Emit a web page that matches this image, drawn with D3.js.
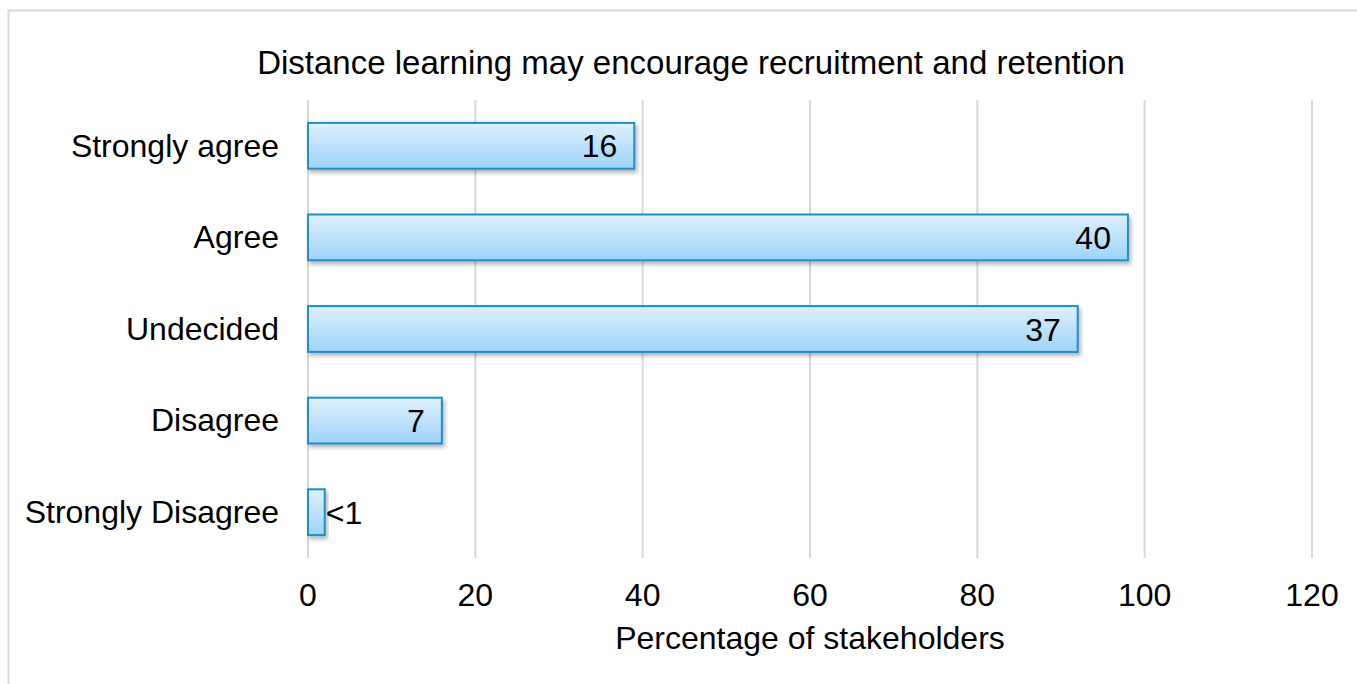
<!DOCTYPE html>
<html>
<head>
<meta charset="utf-8">
<script src="https://cdn.jsdelivr.net/npm/d3@7"></script>
<style>
  body { margin: 0; background: #fff; }
  svg text { font-family: "Liberation Sans", Arial, Helvetica, sans-serif; fill: #000; }
</style>
</head>
<body>
<svg id="chart" width="1357" height="684"></svg>
<script>
// chart data
const categories = ["Strongly agree", "Agree", "Undecided", "Disagree", "Strongly Disagree"];
const barValues = [39, 98, 92, 16, 2];
const barLabels = ["16", "40", "37", "7", "<1"];
const xTicks = [0, 20, 40, 60, 80, 100, 120];
const chartTitle = "Distance learning may encourage recruitment and retention";
const xTitle = "Percentage of stakeholders";

let margin = { top: 100, right: 45, bottom: 126, left: 308 };
let width = 1357, height = 684;

const svg = d3.select("#chart");

// outer chart frame
svg.append("rect")
  .attr("x", 8.5)
  .attr("y", 10.5)
  .attr("width", width + 20)
  .attr("height", height + 20)
  .attr("fill", "none")
  .attr("stroke", "#d9d9d9")
  .attr("stroke-width", 2);

let x = d3.scaleLinear()
  .domain([0, 120])
  .range([margin.left, width - margin.right]);

let y = d3.scaleBand()
  .domain(categories)
  .range([margin.top, height - margin.bottom])
  .paddingInner(0.5)
  .paddingOuter(0.25);

const defs = svg.append("defs");
const grad = defs.append("linearGradient")
  .attr("id", "barGrad")
  .attr("x1", "0%").attr("y1", "0%")
  .attr("x2", "0%").attr("y2", "100%");
grad.append("stop").attr("offset", "0%").attr("stop-color", "#def0fd");
grad.append("stop").attr("offset", "100%").attr("stop-color", "#9ed3fa");

const shadow = defs.append("filter")
  .attr("id", "shadow")
  .attr("x", "-10%").attr("y", "-20%")
  .attr("width", "130%").attr("height", "160%");
shadow.append("feDropShadow")
  .attr("dx", 2).attr("dy", 3)
  .attr("stdDeviation", 2)
  .attr("flood-color", "#000")
  .attr("flood-opacity", 0.3);

// gridlines
svg.append("g")
  .selectAll("line")
  .data(xTicks)
  .enter()
  .append("line")
  .attr("x1", (d) => x(d))
  .attr("x2", (d) => x(d))
  .attr("y1", margin.top)
  .attr("y2", height - margin.bottom)
  .attr("stroke", "#d9d9d9")
  .attr("stroke-width", 2);

// bars
svg.append("g")
  .selectAll("rect")
  .data(categories)
  .enter()
  .append("rect")
  .attr("x", x(0))
  .attr("y", (d) => y(d))
  .attr("width", (d, i) => x(barValues[i]) - x(0))
  .attr("height", y.bandwidth())
  .attr("fill", "url(#barGrad)")
  .attr("stroke", "#1b90c8")
  .attr("stroke-width", 2)
  .attr("filter", "url(#shadow)");

// value labels (inside end, outside if the bar is too short)
svg.append("g")
  .selectAll("text")
  .data(categories)
  .enter()
  .append("text")
  .attr("x", function (d, i) {
    let w = x(barValues[i]) - x(0);
    return w < 40 ? x(barValues[i]) + 1 : x(barValues[i]) - 17;
  })
  .attr("y", (d) => y(d) + y.bandwidth() / 2)
  .attr("dy", "0.36em")
  .attr("text-anchor", function (d, i) {
    return x(barValues[i]) - x(0) < 40 ? "start" : "end";
  })
  .style("font-size", "32px")
  .text((d, i) => barLabels[i]);

// category labels
svg.append("g")
  .selectAll("text")
  .data(categories)
  .enter()
  .append("text")
  .attr("x", margin.left - 29)
  .attr("y", (d) => y(d) + y.bandwidth() / 2)
  .attr("dy", "0.34em")
  .attr("text-anchor", "end")
  .style("font-size", "32px")
  .text((d) => d);

// x tick labels
svg.append("g")
  .selectAll("text")
  .data(xTicks)
  .enter()
  .append("text")
  .attr("x", (d) => x(d))
  .attr("y", 606)
  .attr("text-anchor", "middle")
  .style("font-size", "32px")
  .text((d) => d);

// axis title
svg.append("text")
  .attr("x", (x(0) + x(120)) / 2)
  .attr("y", 649)
  .attr("text-anchor", "middle")
  .style("font-size", "32px")
  .text(xTitle);

// chart title
svg.append("text")
  .attr("x", 691)
  .attr("y", 74)
  .attr("text-anchor", "middle")
  .style("font-size", "33px")
  .text(chartTitle);
</script>
</body>
</html>
